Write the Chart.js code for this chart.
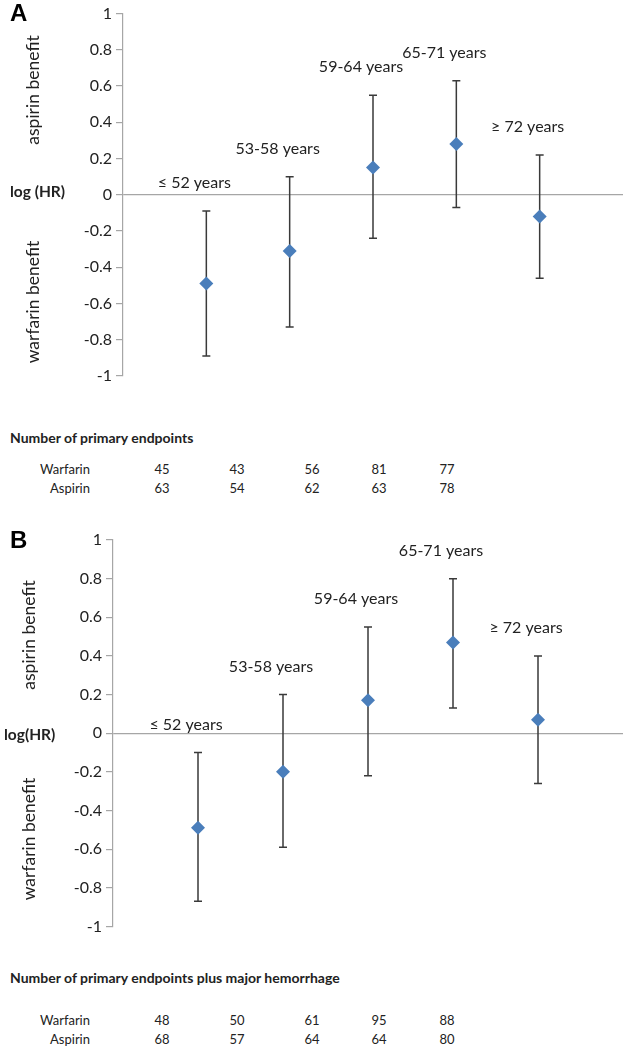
<!DOCTYPE html>
<html>
<head>
<meta charset="utf-8">
<script src="https://cdn.jsdelivr.net/npm/chart.js@4/dist/chart.umd.min.js"></script>
<style>
  body { margin: 0; background: #fff; font-family: Lato, "Open Sans", sans-serif; color: #222; }
  #page { position: relative; width: 630px; height: 1050px; overflow: hidden; }
  canvas { position: absolute; left: 0; }
  .t { position: absolute; white-space: nowrap; }
  .panel { font-family: "Liberation Sans", Arial, sans-serif; font-weight: bold; font-size: 24px; color: #000; }
  .side { font-size: 17.5px; transform: translate(-50%, -50%) rotate(-90deg); }
  .loghr { font-weight: bold; font-size: 15.5px; transform: translateY(-50%); }
  .head { font-weight: bold; font-size: 14px; transform: translateY(-50%); }
  .num { font-size: 13px; transform: translate(-50%, -50%); }
  .rowname { font-size: 13px; transform: translate(-100%, -50%); }
</style>
</head>
<body>
<div id="page">
  <canvas id="chartA" width="630" height="400" style="top:0"></canvas>
  <canvas id="chartB" width="630" height="430" style="top:510px"></canvas>
</div>
<script>
// age groups and values
const ageGroups = ['\u2264 52 years', '53-58 years', '59-64 years', '65-71 years', '\u2265 72 years'];

// panel A: primary endpoints
const logHrA = [-0.49, -0.31, 0.15, 0.28, -0.12];
const lowA = [-0.89, -0.73, -0.24, -0.07, -0.46];
const highA = [-0.09, 0.10, 0.55, 0.63, 0.22];
const warfarinA = [45, 43, 56, 81, 77];
const aspirinA = [63, 54, 62, 63, 78];

// panel B: primary endpoints plus major hemorrhage
const logHrB = [-0.49, -0.20, 0.17, 0.47, 0.07];
const lowB = [-0.87, -0.59, -0.22, 0.13, -0.26];
const highB = [-0.10, 0.20, 0.55, 0.80, 0.40];
const warfarinB = [48, 50, 61, 95, 88];
const aspirinB = [68, 57, 64, 64, 80];

const yMin = -1, yMax = 1, yStep = 0.2;

const errorBars = {
  id: 'errorBars',
  beforeDatasetsDraw(chart, args, opts) {
    let ctx = chart.ctx, xs = chart.scales.x, ys = chart.scales.y;
    ctx.save();
    ctx.strokeStyle = '#3a3a3a';
    ctx.lineWidth = 1.5;
    opts.low.forEach((lo, i) => {
      let x = xs.getPixelForValue(i + 1);
      let y1 = ys.getPixelForValue(lo), y2 = ys.getPixelForValue(opts.high[i]);
      ctx.beginPath();
      ctx.moveTo(x, y1); ctx.lineTo(x, y2);
      ctx.moveTo(x - 4, y1); ctx.lineTo(x + 4, y1);
      ctx.moveTo(x - 4, y2); ctx.lineTo(x + 4, y2);
      ctx.stroke();
    });
    ctx.restore();
  },
  afterDatasetsDraw(chart, args, opts) {
    let ctx = chart.ctx, xs = chart.scales.x, ys = chart.scales.y;
    ctx.save();
    ctx.fillStyle = '#222';
    ctx.font = '16px Lato, "Open Sans", sans-serif';
    ctx.textAlign = 'center';
    ctx.textBaseline = 'middle';
    ageGroups.forEach((g, i) => {
      let x = xs.getPixelForValue(i + 1) - 12;
      let y = ys.getPixelForValue(opts.high[i]) - 28;
      ctx.fillText(g, x, y);
    });
    ctx.restore();
  }
};

function makeChart(id, values, low, high, pad, axisWidth) {
  return new Chart(document.getElementById(id), {
    type: 'scatter',
    data: {
      datasets: [{
        data: values.map((v, i) => ({ x: i + 1, y: v })),
        pointStyle: 'rectRot',
        pointRadius: 7,
        pointHoverRadius: 7,
        backgroundColor: '#4a7ebb',
        borderColor: '#4a7ebb',
        borderWidth: 0
      }]
    },
    options: {
      responsive: false,
      animation: false,
      layout: { padding: pad },
      plugins: {
        legend: { display: false },
        tooltip: { enabled: false },
        errorBars: { low: low, high: high }
      },
      scales: {
        x: { type: 'linear', min: 0, max: 6, display: false },
        y: {
          min: yMin, max: yMax,
          afterFit: s => { s.width = axisWidth; },
          ticks: {
            stepSize: yStep,
            color: '#222',
            padding: 4,
            font: { family: 'Lato, "Open Sans", sans-serif', size: 16 },
            callback: v => String(Math.round(v * 10) / 10)
          },
          grid: {
            drawOnChartArea: true,
            color: c => (Math.abs(c.tick.value) < 1e-9 ? '#a6a6a6' : 'rgba(0,0,0,0)'),
            lineWidth: 1.2,
            tickColor: '#a6a6a6',
            tickLength: 7
          },
          border: { color: '#a6a6a6', width: 1.2 }
        }
      }
    },
    plugins: [errorBars]
  });
}

makeChart('chartA', logHrA, lowA, highA, { top: 7, bottom: 24, left: 0, right: 3 }, 123);
makeChart('chartB', logHrB, lowB, highB, { top: 30, bottom: 11, left: 0, right: 7 }, 113);

// text around the charts
const page = document.getElementById('page');
function addText(cls, txt, left, top) {
  let d = document.createElement('div');
  d.className = 't ' + cls;
  d.textContent = txt;
  d.style.left = left + 'px';
  d.style.top = top + 'px';
  page.appendChild(d);
}

const numCols = [162, 237, 312, 379, 447];
function addPanel(letter, top, zeroY, aspY, warY, head, headY, warfarin, aspirin, rowY) {
  addText('panel', letter, 10, top);
  addText('loghr', letter === 'A' ? 'log (HR)' : 'log(HR)', letter === 'A' ? 10 : 4, zeroY);
  addText('side', 'aspirin benefit', letter === 'A' ? 32 : 28, aspY);
  addText('side', 'warfarin benefit', letter === 'A' ? 32 : 28, warY);
  addText('head', head, 10, headY);
  addText('rowname', 'Warfarin', 90, rowY[0]);
  addText('rowname', 'Aspirin', 90, rowY[1]);
  warfarin.forEach((n, i) => addText('num', n, numCols[i], rowY[0]));
  aspirin.forEach((n, i) => addText('num', n, numCols[i], rowY[1]));
}

addPanel('A', -1, 191, 90, 302, 'Number of primary endpoints', 437, warfarinA, aspirinA, [469, 488]);
addPanel('B', 526, 734, 635, 839, 'Number of primary endpoints plus major hemorrhage', 977, warfarinB, aspirinB, [1020, 1039]);
</script>
</body>
</html>
